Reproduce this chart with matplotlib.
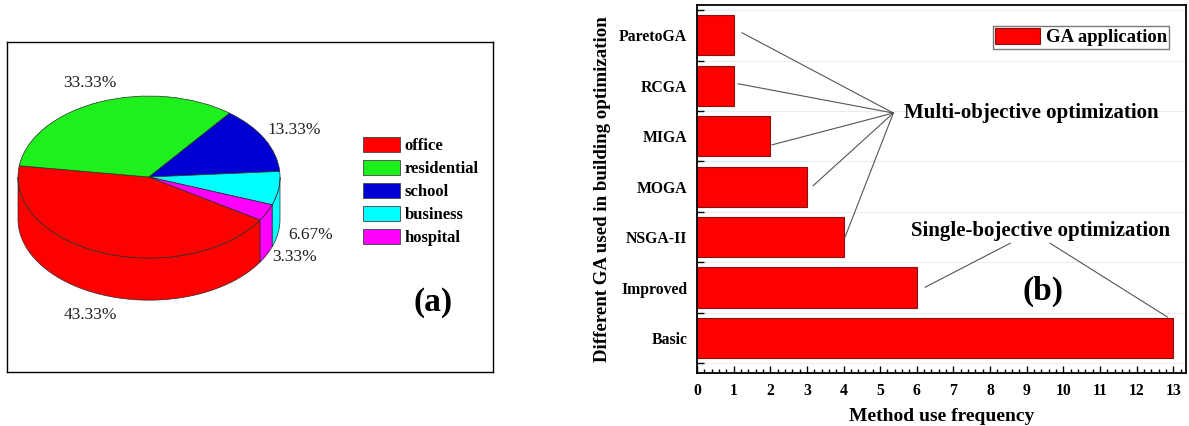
import numpy as np
import matplotlib
matplotlib.use('Agg')
import matplotlib.pyplot as plt
from matplotlib.patches import Patch, Polygon
from matplotlib.ticker import MultipleLocator

plt.rcParams['font.family'] = ['Liberation Serif', 'DejaVu Serif']

# ---------------- data ----------------
building_types = ['office', 'residential', 'school', 'business', 'hospital']
building_counts = [13, 10, 4, 2, 1]
building_colors = ['#ff0000', '#1ef01e', '#0000d2', '#00ffff', '#ff00ff']

ga_methods = ['Basic', 'Improved', 'NSGA-II', 'MOGA', 'MIGA', 'RCGA', 'ParetoGA']
ga_counts = [13, 6, 4, 3, 2, 1, 1]
multi_objective = ['ParetoGA', 'RCGA', 'MIGA', 'MOGA', 'NSGA-II']
single_objective = ['Improved', 'Basic']

# ---------------- figure ----------------
W, H = 1189, 426
fig = plt.figure(figsize=(W / 100, H / 100), dpi=100)


def fig_rect(l, t, r, b):
    return [l / W, 1 - b / H, (r - l) / W, (b - t) / H]


# ---------------- (a) 3D-style pie ----------------
ax1 = fig.add_axes(fig_rect(7, 42, 493, 372))
edge = '#2a2a2a'
wedges, _ = ax1.pie(building_counts, colors=building_colors, startangle=-32,
                    counterclock=False, radius=1,
                    wedgeprops=dict(edgecolor=edge, linewidth=0.5))
for w in wedges:
    w.set_zorder(2)

depth = 0.52
for w, c in zip(wedges, building_colors):
    a, b = w.theta1, w.theta2
    for k in range(-2, 2):
        lo = max(a, 180 + 360 * k)
        hi = min(b, 360 + 360 * k)
        if hi > lo:
            t = np.radians(np.linspace(lo, hi, 80))
            top = np.column_stack([np.cos(t), np.sin(t)])
            bot = np.column_stack([np.cos(t[::-1]), np.sin(t[::-1]) - depth])
            ax1.add_patch(Polygon(np.vstack([top, bot]), closed=True,
                                  facecolor=c, edgecolor=edge, linewidth=0.5,
                                  zorder=1))

ax1.set_aspect('auto')
ax1.set_xlim(-1.084, 2.626)
ax1.set_ylim(-2.407, 1.667)
ax1.set_frame_on(True)
for s in ax1.spines.values():
    s.set_linewidth(1.0)
    s.set_color('black')
ax1.set_xticks([])
ax1.set_yticks([])

total = sum(building_counts)
label_pos = [(-0.45, -1.70), (-0.45, 1.16), (1.11, 0.58), (1.23, -0.72), (1.11, -0.99)]
for cnt, (lx, ly) in zip(building_counts, label_pos):
    ax1.text(lx, ly, f'{100 * cnt / total:.2f}%', ha='center', va='center',
             fontsize=12.5, color='#222222')

handles = [Patch(facecolor=c, edgecolor='#444444', linewidth=0.6) for c in building_colors]
ax1.legend(handles, building_types, loc='upper left',
           bbox_to_anchor=(363 / W, 1 - 137 / H), bbox_transform=fig.transFigure,
           frameon=False, prop=dict(weight='bold', size=12),
           handlelength=2.2, handleheight=1.0, labelspacing=0.35,
           handletextpad=0.3, borderpad=0, borderaxespad=0)

fig.text(433 / W, 1 - 303 / H, '(a)', ha='center', va='center',
         fontsize=24, fontweight='bold')

# ---------------- (b) bar chart ----------------
ax2 = fig.add_axes(fig_rect(697, 5, 1186, 373))
y = np.arange(len(ga_methods))
ax2.barh(y, ga_counts, height=0.8, color='#ff0000', edgecolor='#8a1010',
         linewidth=0.8, label='GA application', zorder=2)
ax2.set_xlim(0, 13.35)
ax2.set_ylim(-0.69, 6.6)
ax2.set_yticks(y)
ax2.set_yticklabels(ga_methods)
ax2.set_yticks(np.arange(-0.5, len(ga_methods), 1.0), minor=True)
ax2.set_xticks(np.arange(0, 14, 1))
ax2.xaxis.set_minor_locator(MultipleLocator(0.2))
ax2.grid(axis='y', which='minor', color='#e6eff5', linewidth=0.8, zorder=0)
ax2.set_axisbelow(True)
ax2.tick_params(which='both', direction='in', top=False, right=False, width=1)
ax2.tick_params(which='major', length=5, pad=7)
ax2.tick_params(which='minor', length=3)
ax2.tick_params(axis='y', which='minor', length=5)
for lab in ax2.get_xticklabels() + ax2.get_yticklabels():
    lab.set_fontweight('bold')
    lab.set_fontsize(11.3)
for s in ax2.spines.values():
    s.set_linewidth(1.3)
ax2.set_xlabel('Method use frequency', fontsize=14, fontweight='bold', labelpad=7)
ax2.set_ylabel('Different GA used in building optimization', fontsize=13.6,
               fontweight='bold', labelpad=6)

ax2.legend(loc='upper right', bbox_to_anchor=(1169 / W, 1 - 26 / H),
           bbox_transform=fig.transFigure, prop=dict(weight='bold', size=13.5),
           fancybox=False, edgecolor='#777777', framealpha=1,
           handlelength=2.4, handleheight=0.9, borderpad=0.12,
           handletextpad=0.3, borderaxespad=0)

# annotations
line_kw = dict(color='#555555', linewidth=0.8, zorder=3)
idx = {m: i for i, m in enumerate(ga_methods)}
multi_conv = (5.36, 4.46)
multi_offsets = {'ParetoGA': (0.23, 0.05), 'RCGA': (0.12, 0.04), 'MIGA': (0.05, -0.17),
                 'MOGA': (0.17, 0.02), 'NSGA-II': (0.04, 0.0)}
for m in multi_objective:
    dx, dy = multi_offsets[m]
    sx, sy = ga_counts[idx[m]] + dx, idx[m] + dy
    ax2.plot([sx, multi_conv[0]], [sy, multi_conv[1]], **line_kw)
ax2.text(5.66, 4.46, 'Multi-objective optimization', ha='left', va='center',
         fontsize=15, fontweight='bold')

single_tops = {'Improved': (8.55, 1.88), 'Basic': (9.64, 1.88)}
single_offsets = {'Improved': (0.23, 0.01), 'Basic': (-0.16, 0.42)}
for m in single_objective:
    dx, dy = single_offsets[m]
    sx, sy = ga_counts[idx[m]] + dx, idx[m] + dy
    tx, ty = single_tops[m]
    ax2.plot([sx, tx], [sy, ty], **line_kw)
ax2.text(9.38, 2.12, 'Single-bojective optimization', ha='center', va='center',
         fontsize=15, fontweight='bold')

ax2.text(9.45, 0.92, '(b)', ha='center', va='center', fontsize=24, fontweight='bold')

fig.savefig('out.png', dpi=100)
